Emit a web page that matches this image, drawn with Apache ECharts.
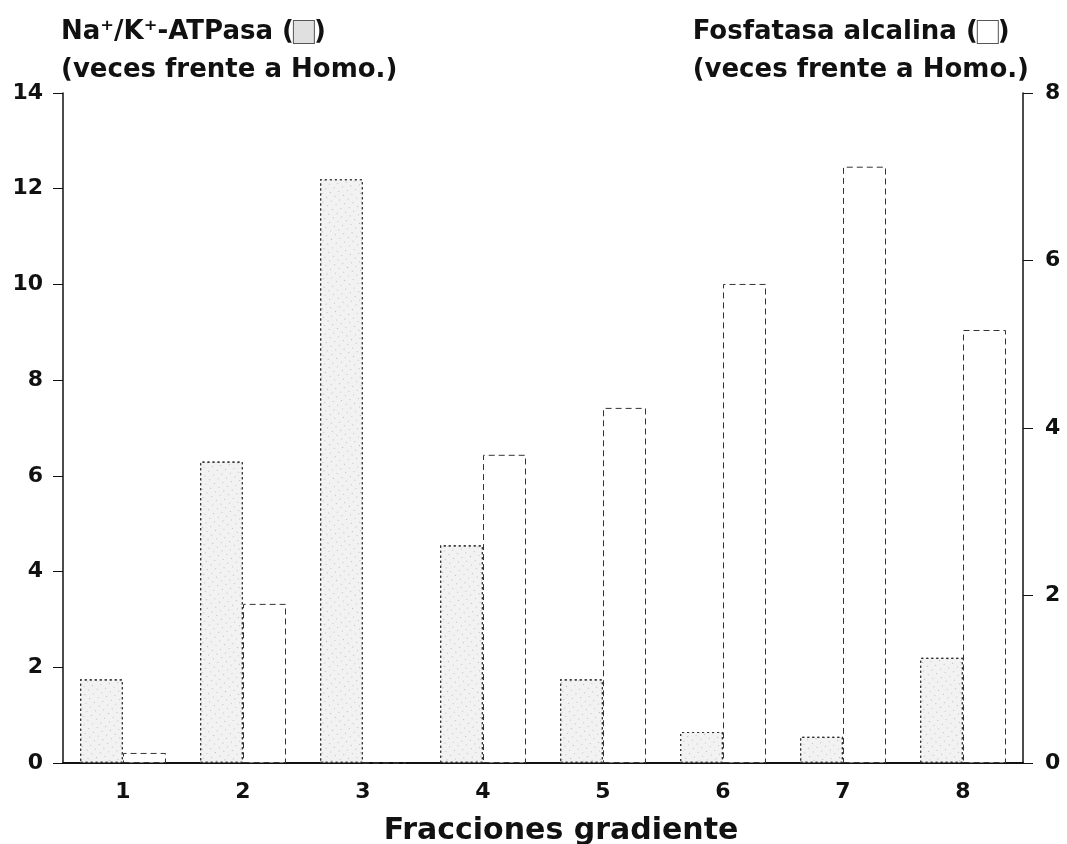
<!DOCTYPE html>
<html>
<head>
<meta charset="utf-8">
<style>
  html, body { margin: 0; padding: 0; background: #fff; }
  #chart { width: 1067px; height: 844px; }
</style>
<script src="https://cdn.jsdelivr.net/npm/echarts@6/dist/echarts.min.js"></script>
</head>
<body>
<div id="chart"></div>
<script>
const categories = ['1', '2', '3', '4', '5', '6', '7', '8'];
const atpasa = [1.75, 6.3, 12.2, 4.55, 1.75, 0.65, 0.55, 2.2];
const fosfatasa = [0.12, 1.9, 0, 3.68, 4.24, 5.72, 7.12, 5.17];
const leftTicks = [0, 14, 2];
const rightTicks = [0, 8, 2];

const FONT = 'DejaVu Sans';
const chart = echarts.init(document.getElementById('chart'), null, { renderer: 'canvas' });

const boxBase = { width: 20, height: 22, borderColor: '#555', borderWidth: 1, borderType: 'dotted' };
const titleStyle = (text, align) => ({
  text: text,
  fontFamily: FONT, fontWeight: 'bold', fontSize: 26, fill: '#111',
  lineHeight: 38, align: align, verticalAlign: 'top',
  rich: {
    na: Object.assign({}, boxBase, { backgroundColor: '#e0e0e0' }),
    ap: Object.assign({}, boxBase, { backgroundColor: '#fff' })
  }
});

chart.setOption({
  animation: false,
  backgroundColor: '#fff',
  graphic: [
    { type: 'text', left: 61, top: 13, style: titleStyle('Na⁺/K⁺-ATPasa ({na|})\n(veces frente a Homo.)', 'left') },
    { type: 'text', right: 38, top: 13, style: titleStyle('Fosfatasa alcalina ({ap|})\n(veces frente a Homo.)', 'right') }
  ],
  grid: { left: 63, right: 44, top: 93, bottom: 81, containLabel: false, outerBoundsMode: 'none' },
  xAxis: {
    type: 'category',
    data: categories,
    axisLine: { show: true, lineStyle: { color: '#111', width: 2 } },
    axisTick: { show: false },
    axisLabel: { fontFamily: FONT, fontWeight: 'bold', fontSize: 22, color: '#111', margin: 18 },
    name: 'Fracciones gradiente',
    nameLocation: 'middle',
    nameGap: 53,
    nameTextStyle: { fontFamily: FONT, fontWeight: 'bold', fontSize: 30, color: '#111', padding: [0, 0, 0, 36] }
  },
  yAxis: [
    {
      type: 'value', min: leftTicks[0], max: leftTicks[1], interval: leftTicks[2],
      position: 'left',
      axisLine: { show: true, lineStyle: { color: '#111', width: 1.5 } },
      axisTick: { show: true, inside: false, length: 10, lineStyle: { color: '#111' } },
      axisLabel: { fontFamily: FONT, fontWeight: 'bold', fontSize: 22, color: '#111', margin: 20 },
      splitLine: { show: false }
    },
    {
      type: 'value', min: rightTicks[0], max: rightTicks[1], interval: rightTicks[2],
      position: 'right',
      axisLine: { show: true, lineStyle: { color: '#111', width: 1.5 } },
      axisTick: { show: true, inside: false, length: 10, lineStyle: { color: '#111' } },
      axisLabel: { fontFamily: FONT, fontWeight: 'bold', fontSize: 22, color: '#111', margin: 22 },
      splitLine: { show: false }
    }
  ],
  series: [
    {
      name: 'Na⁺/K⁺-ATPasa',
      type: 'bar',
      yAxisIndex: 0,
      data: atpasa,
      barWidth: 43,
      barGap: '0%',
      itemStyle: {
        color: '#f2f2f2',
        borderColor: '#333',
        borderWidth: 1.2,
        borderType: [2, 3],
        decal: {
          symbol: 'rect',
          symbolSize: 0.7,
          color: 'rgba(30,30,30,0.7)',
          dashArrayX: [1, 5],
          dashArrayY: [1, 5],
          rotation: -0.9
        }
      }
    },
    {
      name: 'Fosfatasa alcalina',
      type: 'bar',
      yAxisIndex: 1,
      data: fosfatasa,
      barWidth: 43,
      barGap: '0%',
      itemStyle: {
        color: '#ffffff',
        borderColor: '#333',
        borderWidth: 1,
        borderType: [6, 4]
      }
    }
  ]
});
</script>
</body>
</html>
